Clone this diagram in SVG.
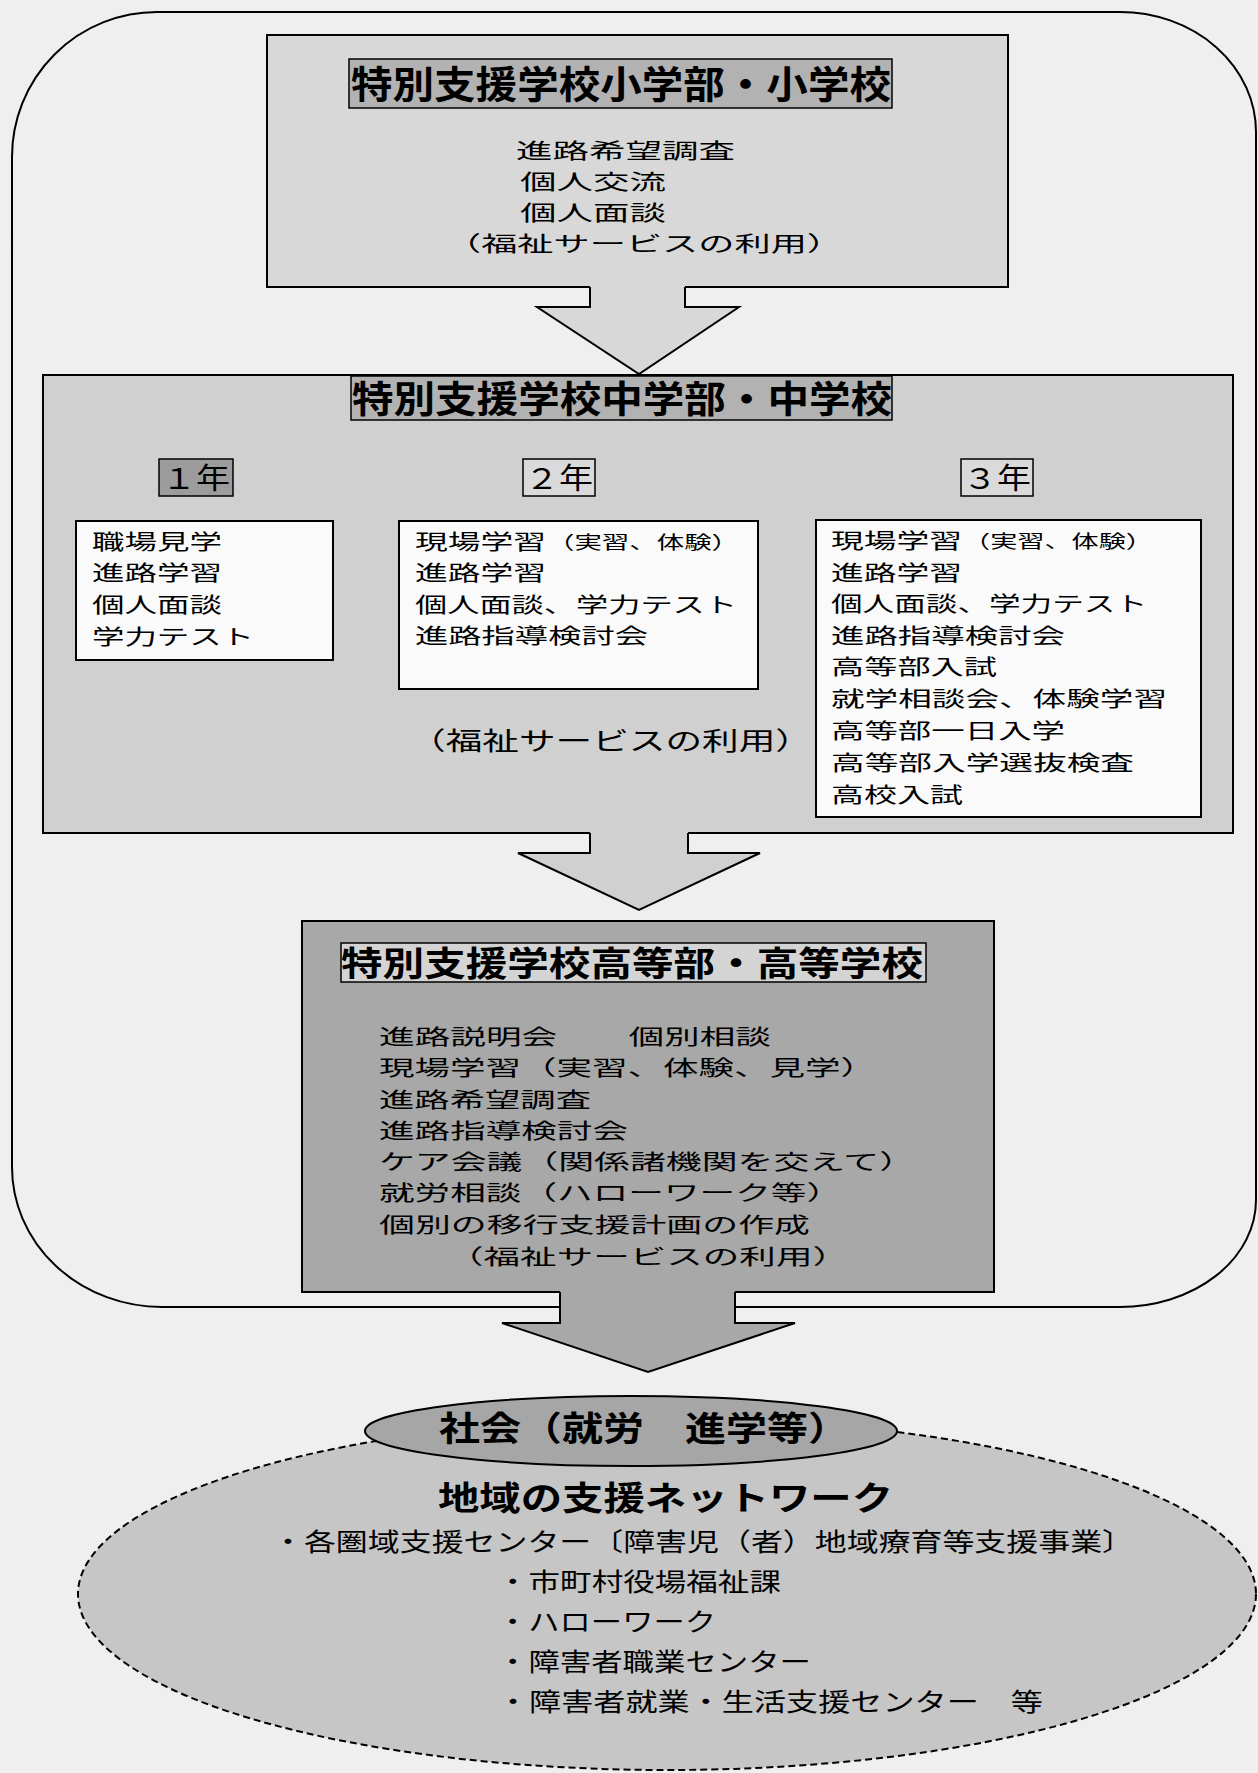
<svg xmlns="http://www.w3.org/2000/svg" width="1258" height="1773" viewBox="0 0 1258 1773">
<style>
text{font-family:"Noto Sans CJK JP","Noto Sans CJK SC",sans-serif;fill:#000}
.b{font-weight:700}
.box{stroke:#000;stroke-width:2}
.thin{stroke:#000;stroke-width:1.5}
.edge{fill:none;stroke:#000;stroke-width:2;stroke-linejoin:miter}
.t21{font-size:21px}
.t25{font-size:25px}
.t19{font-size:18px}
</style>
<rect width="1258" height="1773" fill="#efefef"/>
<path id="outer" d="M12,157 A145,145 0 0 1 157,12 L1120,12 A136,120 0 0 1 1256,132 L1256,1200 A136,107 0 0 1 1120,1307 L162,1307 A150,140 0 0 1 12,1167 Z" fill="none" stroke="#000" stroke-width="2"/>

<g id="elementary">
<rect x="267" y="35" width="741" height="252" fill="#d8d8d8" class="box"/>
<rect x="349" y="59" width="543" height="49" fill="#b2b2b2" class="thin"/>
<text x="351" y="98" class="b" font-size="38" textLength="540" lengthAdjust="spacingAndGlyphs">特別支援学校小学部・小学校</text>
<text x="516" y="158" class="t21" textLength="219" lengthAdjust="spacingAndGlyphs">進路希望調査</text>
<text x="520" y="189" class="t21" textLength="146" lengthAdjust="spacingAndGlyphs">個人交流</text>
<text x="520" y="220" class="t21" textLength="146" lengthAdjust="spacingAndGlyphs">個人面談</text>
<text x="445" y="251" class="t21" textLength="398" lengthAdjust="spacingAndGlyphs">（福祉サービスの利用）</text>
</g>

<g id="junior">
<rect x="43" y="375" width="1190" height="458" fill="#d0d0d0" class="box"/>
<rect x="351" y="376" width="541" height="44" fill="#b2b2b2" class="thin"/>
<text x="352" y="413" class="b" font-size="37" textLength="540" lengthAdjust="spacingAndGlyphs">特別支援学校中学部・中学校</text>
<g id="year1">
<rect x="159" y="459" width="74" height="37" fill="#9c9c9c" class="thin"/>
<text x="162" y="489" font-size="29" textLength="68" lengthAdjust="spacingAndGlyphs">１年</text>
<rect x="76" y="521" width="257" height="139" fill="#fafafa" class="box"/>
<text x="92" y="549" class="t21" textLength="130" lengthAdjust="spacingAndGlyphs">職場見学</text>
<text x="92" y="580" class="t21" textLength="130" lengthAdjust="spacingAndGlyphs">進路学習</text>
<text x="92" y="612" class="t21" textLength="130" lengthAdjust="spacingAndGlyphs">個人面談</text>
<text x="92" y="644" class="t21" textLength="162" lengthAdjust="spacingAndGlyphs">学力テスト</text>
</g>
<g id="year2">
<rect x="523" y="459" width="72" height="37" fill="#dadada" class="thin"/>
<text x="525" y="489" font-size="29" textLength="68" lengthAdjust="spacingAndGlyphs">２年</text>
<rect x="399" y="521" width="359" height="168" fill="#fafafa" class="box"/>
<text x="415" y="549" class="t21" textLength="131" lengthAdjust="spacingAndGlyphs">現場学習</text>
<text x="547" y="549" class="t19" textLength="192" lengthAdjust="spacingAndGlyphs">（実習、体験）</text>
<text x="415" y="580" class="t21" textLength="131" lengthAdjust="spacingAndGlyphs">進路学習</text>
<text x="415" y="612" class="t21" textLength="322" lengthAdjust="spacingAndGlyphs">個人面談、学力テスト</text>
<text x="415" y="643" class="t21" textLength="233" lengthAdjust="spacingAndGlyphs">進路指導検討会</text>
</g>
<text x="409" y="750" class="t25" textLength="403" lengthAdjust="spacingAndGlyphs">（福祉サービスの利用）</text>
<g id="year3">
<rect x="961" y="459" width="72" height="37" fill="#dadada" class="thin"/>
<text x="963" y="489" font-size="29" textLength="68" lengthAdjust="spacingAndGlyphs">３年</text>
<rect x="816" y="520" width="385" height="297" fill="#fafafa" class="box"/>
<text x="831" y="548" class="t21" textLength="131" lengthAdjust="spacingAndGlyphs">現場学習</text>
<text x="963" y="548" class="t19" textLength="190" lengthAdjust="spacingAndGlyphs">（実習、体験）</text>
<text x="831" y="580" class="t21" textLength="131" lengthAdjust="spacingAndGlyphs">進路学習</text>
<text x="831" y="611" class="t21" textLength="316" lengthAdjust="spacingAndGlyphs">個人面談、学力テスト</text>
<text x="831" y="643" class="t21" textLength="234" lengthAdjust="spacingAndGlyphs">進路指導検討会</text>
<text x="831" y="674" class="t21" textLength="166" lengthAdjust="spacingAndGlyphs">高等部入試</text>
<text x="831" y="706" class="t21" textLength="336" lengthAdjust="spacingAndGlyphs">就学相談会、体験学習</text>
<text x="831" y="738" class="t21" textLength="234" lengthAdjust="spacingAndGlyphs">高等部一日入学</text>
<text x="831" y="770" class="t21" textLength="303" lengthAdjust="spacingAndGlyphs">高等部入学選抜検査</text>
<text x="831" y="802" class="t21" textLength="132" lengthAdjust="spacingAndGlyphs">高校入試</text>
</g>
</g>

<g id="senior">
<rect x="302" y="921" width="692" height="371" fill="#a8a8a8" class="box"/>
<rect x="341" y="943" width="585" height="39" fill="#d4d4d4" class="thin"/>
<text x="341" y="976" class="b" font-size="34" textLength="582" lengthAdjust="spacingAndGlyphs">特別支援学校高等部・高等学校</text>
<text x="379" y="1044" class="t21" textLength="392" lengthAdjust="spacingAndGlyphs">進路説明会　　個別相談</text>
<text x="379" y="1075" class="t21" textLength="497" lengthAdjust="spacingAndGlyphs">現場学習（実習、体験、見学）</text>
<text x="379" y="1107" class="t21" textLength="212" lengthAdjust="spacingAndGlyphs">進路希望調査</text>
<text x="379" y="1138" class="t21" textLength="249" lengthAdjust="spacingAndGlyphs">進路指導検討会</text>
<text x="379" y="1169" class="t21" textLength="536" lengthAdjust="spacingAndGlyphs">ケア会議（関係諸機関を交えて）</text>
<text x="379" y="1200" class="t21" textLength="463" lengthAdjust="spacingAndGlyphs">就労相談（ハローワーク等）</text>
<text x="379" y="1232" class="t21" textLength="431" lengthAdjust="spacingAndGlyphs">個別の移行支援計画の作成</text>
<text x="447" y="1264" class="t21" textLength="402" lengthAdjust="spacingAndGlyphs">（福祉サービスの利用）</text>
</g>

<g id="network">
<ellipse cx="667" cy="1594" rx="589" ry="176" fill="#c6c6c6" stroke="#000" stroke-width="2" stroke-dasharray="7,4"/>
<text x="438" y="1510" class="b" font-size="33" textLength="455" lengthAdjust="spacingAndGlyphs">地域の支援ネットワーク</text>
<text x="272" y="1551" class="t25" textLength="862" lengthAdjust="spacingAndGlyphs">・各圏域支援センター〔障害児（者）地域療育等支援事業〕</text>
<text x="497" y="1591" class="t25" textLength="284" lengthAdjust="spacingAndGlyphs">・市町村役場福祉課</text>
<text x="497" y="1631" class="t25" textLength="219" lengthAdjust="spacingAndGlyphs">・ハローワーク</text>
<text x="497" y="1671" class="t25" textLength="314" lengthAdjust="spacingAndGlyphs">・障害者職業センター</text>
<text x="497" y="1711" class="t25" textLength="546" lengthAdjust="spacingAndGlyphs">・障害者就業・生活支援センター　等</text>
</g>

<g id="society">
<ellipse cx="631" cy="1431" rx="266" ry="35" fill="#a6a6a6" stroke="#000" stroke-width="2"/>
<text x="439" y="1441" class="b" font-size="34" textLength="410" lengthAdjust="spacingAndGlyphs">社会（就労　進学等）</text>
</g>

<g id="connectors">
<path d="M590,284 L590,307 L537,307 L639,374 L739,307 L685,307 L685,284 Z" fill="#d8d8d8"/>
<polyline points="590,287 590,307 537,307 639,374 739,307 685,307 685,287" class="edge"/>
<path d="M590,830 L590,853 L518,853 L639,910 L760,853 L688,853 L688,830 Z" fill="#d0d0d0"/>
<polyline points="590,833 590,853 518,853 639,910 760,853 688,853 688,833" class="edge"/>
<path d="M560,1289 L560,1323 L502,1323 L648,1372 L795,1323 L735,1323 L735,1289 Z" fill="#a8a8a8"/>
<polyline points="560,1292 560,1323 502,1323 648,1372 795,1323 735,1323 735,1292" class="edge"/>
</g>
</svg>
